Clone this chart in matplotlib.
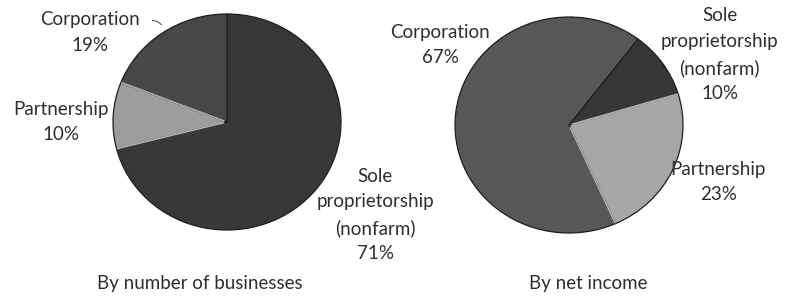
import numpy as np
import matplotlib
matplotlib.use('Agg')
import matplotlib.pyplot as plt

# shares by number of businesses / by net income (percent)
labels_count = ['Sole\nproprietorship\n(nonfarm)', 'Partnership', 'Corporation']
share_count = [71, 10, 19]
colors_count = ['#383838', '#9c9c9c', '#474747']

labels_income = ['Sole\nproprietorship\n(nonfarm)', 'Partnership', 'Corporation']
share_income = [10, 23, 67]
colors_income = ['#363636', '#a6a6a6', '#575757']

plt.rcParams['font.family'] = ['Lato', 'DejaVu Sans']

W, H = 798, 297
fig = plt.figure(figsize=(W / 100, H / 100), dpi=100, facecolor='w')


def pie_axes(cx, cy, rx, ry):
    ax = fig.add_axes([(cx - rx) / W, (H - cy - ry) / H, 2 * rx / W, 2 * ry / H])
    return ax


def draw_pie(ax, values, colors, start):
    wedges, _ = ax.pie(values, colors=colors, startangle=start, counterclock=False,
                       wedgeprops=dict(edgecolor='#1e1e1e', linewidth=0.9))
    # light edge on the light slice, like the bevel in the original
    w = wedges[1]
    for ang in (w.theta1, w.theta2):
        a = np.deg2rad(ang)
        ax.plot([0.03 * np.cos(a), 0.99 * np.cos(a)], [0.03 * np.sin(a), 0.99 * np.sin(a)],
                color='#dddddd', lw=1.0, alpha=0.8)
    ax.set_aspect('auto')
    ax.set_xlim(-1.0, 1.0)
    ax.set_ylim(-1.0, 1.0)
    return wedges


txt = dict(fontsize=13.5, color='#2e2e2e', ha='center', va='center', linespacing=1.6)

# left: by number of businesses
ax1 = pie_axes(227, 122, 114, 108)
draw_pie(ax1, share_count, colors_count, 90)
pos1 = [(1.30, -0.86), (-1.46, 0.0), (-1.20, 0.83)]
for lab, val, (x, y) in zip(labels_count, share_count, pos1):
    ax1.text(x, y, '%s\n%d%%' % (lab, val), clip_on=False, **txt)
ax1.annotate('', xy=(-0.56, 0.88), xytext=(-0.68, 0.94), annotation_clip=False,
             arrowprops=dict(arrowstyle='-', color='#555555', lw=0.8,
                             connectionstyle='arc3,rad=-0.3'))

# right: by net income
ax2 = pie_axes(569, 125, 114, 108)
draw_pie(ax2, share_income, colors_income, 52.8)
pos2 = [(1.32, 0.65), (1.31, -0.53), (-1.13, 0.74)]
for lab, val, (x, y) in zip(labels_income, share_income, pos2):
    ax2.text(x, y, '%s\n%d%%' % (lab, val), clip_on=False, **txt)

fig.text(200 / W, 1 - 283 / H, 'By number of businesses', fontsize=13.5,
         color='#2e2e2e', ha='center', va='center')
fig.text(588 / W, 1 - 283 / H, 'By net income', fontsize=13.5,
         color='#2e2e2e', ha='center', va='center')

fig.savefig('out.png', dpi=100, facecolor='w')
